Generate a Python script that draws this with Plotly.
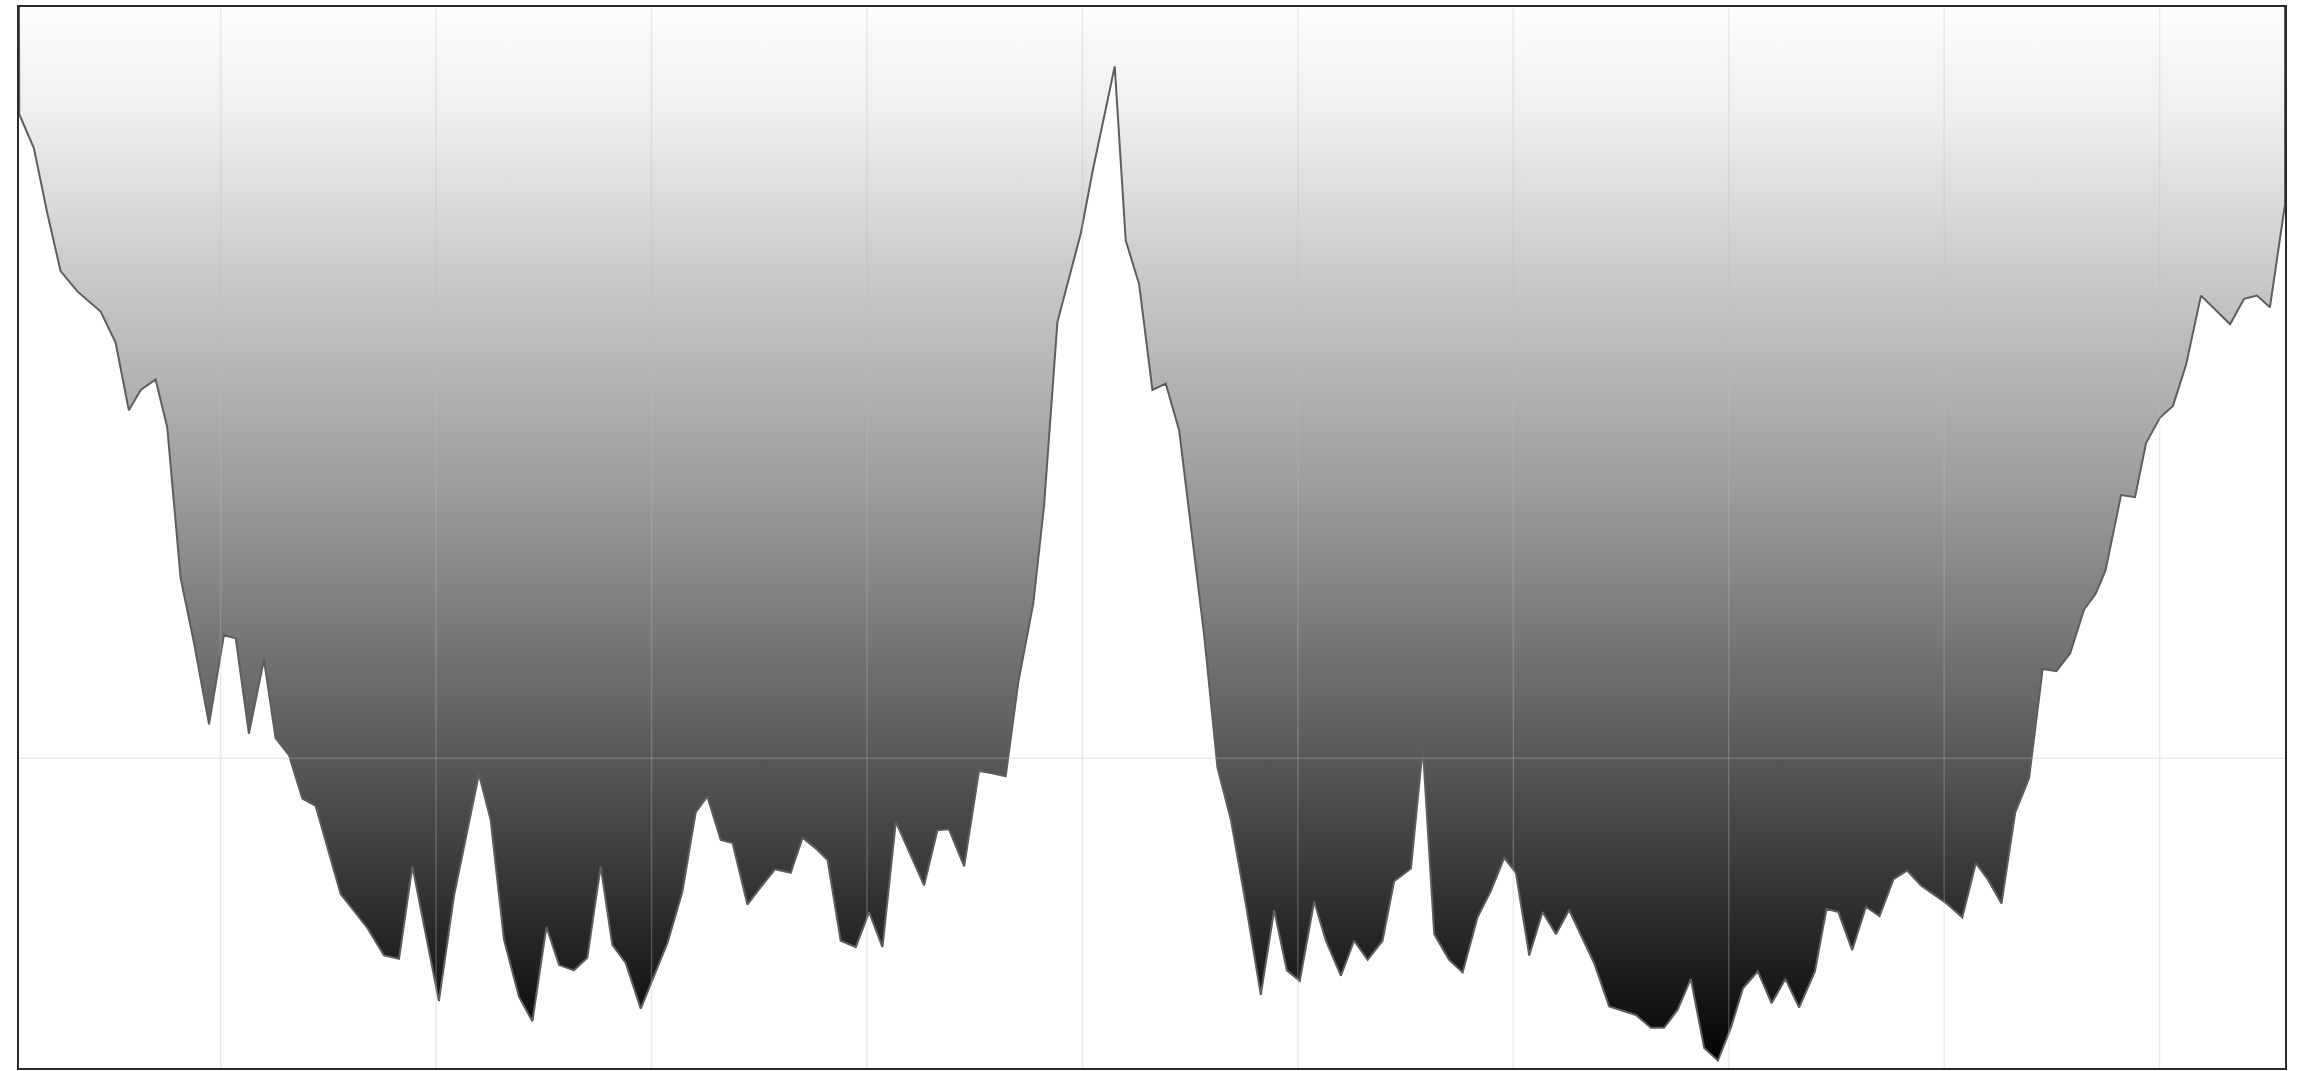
import plotly.graph_objects as go

# Distance along the section (arbitrary units) and depth below the surface (m)
DIST = [6.4, 6.5, 13.3, 19.5, 25.7, 33.5, 44.3, 51.2, 57.4, 62.9, 69.8, 75.2, 81.4, 87.6, 94.6,
        101.5, 107.0, 113.1, 120.1, 125.5, 131.7, 137.9, 144.1, 155.7, 168.1, 175.8, 182.8, 189.0,
        201.3, 208.3, 219.9, 225.3, 231.5, 238.5, 244.7, 251.2, 257.1, 264.0, 270.2, 276.4, 281.8,
        288.0, 295.0, 307.4, 314.3, 320.5, 325.9, 332.1, 337.6, 344.5, 350.7, 357.3, 364.6, 370.1,
        376.2, 381.7, 387.8, 394.8, 401.0, 407.2, 413.4, 426.5, 432.7, 438.1, 445.1, 452.0, 457.5,
        464.4, 470.2, 477.2, 482.2, 488.4, 499.3, 504.7, 515.0, 520.1, 526.3, 532.5, 538.7, 544.9,
        551.1, 556.5, 562.7, 568.9, 575.8, 582.8, 589.0, 594.9, 600.9, 607.6, 613.0, 620.0, 626.1,
        632.4, 639.3, 644.7, 652.5, 658.0, 663.3, 670.2, 676.5, 683.4, 689.6, 695.8, 701.2, 707.4,
        713.6, 719.8, 725.9, 737.5, 744.5, 756.9, 763.9, 770.0, 776.3, 782.4, 788.6, 795.0, 801.0,
        806.6, 813.5, 819.9, 826.3, 832.7, 840.0, 845.4, 850.9, 857.3, 863.7, 870.0, 876.5, 882.8,
        889.2, 901.1, 908.4, 914.7, 920.2, 926.6, 933.0, 939.4, 945.7, 952.1, 958.5, 964.9, 970.3,
        974.9, 982.1, 988.6, 993.7, 1000.2, 1006.2, 1012.3, 1019.2, 1026.2, 1032.7, 1039.2, 1045.2,
        1051.2, 1058.2, 1058.2]

DEPTH = [0, 713, 939, 1370, 1758, 1893, 2027, 2232, 2684, 2549, 2479, 2797, 3799, 4230, 4774,
         4181, 4202, 4837, 4343, 4866, 4979, 5268, 5318, 5904, 6130, 6313, 6335, 5720,
         6617, 5918, 5106, 5409, 6208, 6589, 6751, 6123, 6377, 6412, 6328, 5720, 6243,
         6363, 6667, 6229, 5890, 5360, 5254, 5544, 5565, 5974, 5858, 5740, 5763, 5530,
         5600, 5678, 6215, 6257, 6024, 6257, 5424, 5847, 5480, 5473, 5720, 5085, 5099,
         5120, 4499, 3969, 3319, 2097, 1504, 1095, 395, 1554, 1843, 2549, 2507, 2818,
         3545, 4181, 5063, 5409, 5967, 6575, 6010, 6412, 6483, 5953, 6215, 6448, 6215,
         6342, 6215, 5819, 5734, 4929, 6172, 6342, 6426, 6059, 5883, 5664, 5763, 6313,
         6024, 6172, 6010, 6363, 6652, 6709, 6794, 6794, 6674, 6469, 6928, 7013, 6794,
         6532, 6419, 6631, 6469, 6659, 6419, 6003, 6024, 6278, 5989, 6052, 5805, 5748,
         5847, 5967, 6059, 5699, 5805, 5967, 5360, 5134, 4407, 4421, 4301, 4011, 3905,
         3750, 3249, 3263, 2902, 2733, 2655, 2380, 1921, 2020, 2112, 1942, 1921,
         1999, 1314, 0]

assert len(DIST) == len(DEPTH), (len(DIST), len(DEPTH))

X_RANGE = [6.4, 1058.2]
Y_RANGE = [7062, 0]
X_GRID_STEP = 100
Y_GRID_STEP = 5000

fig = go.Figure()
fig.add_trace(go.Scatter(
    x=DIST, y=DEPTH, mode="lines", fill="tozeroy",
    line=dict(color="#5e5e5e", width=2),
    fillgradient=dict(
        type="vertical", start=0, stop=Y_RANGE[0],
        colorscale=[[0.0, "#fdfdfd"], [0.1, "#efefef"], [0.25, "#cacaca"],
                    [0.466, "#999999"], [0.705, "#595959"], [0.85, "#2e2e2e"],
                    [0.944, "#131313"], [1.0, "#000000"]],
    ),
    hoverinfo="skip", showlegend=False,
))

# grid lines drawn above the filled area (as in the reference)
shapes = []
gx = X_GRID_STEP
while gx < X_RANGE[1]:
    if gx > X_RANGE[0]:
        shapes.append(dict(type="line", xref="x", yref="paper", x0=gx, x1=gx, y0=0, y1=1,
                           layer="above", line=dict(color="rgba(190,190,190,0.3)", width=1.5)))
    gx += X_GRID_STEP
gy = Y_GRID_STEP
while gy < Y_RANGE[0]:
    shapes.append(dict(type="line", xref="paper", yref="y", x0=0, x1=1, y0=gy, y1=gy,
                       layer="above", line=dict(color="rgba(190,190,190,0.3)", width=1.5)))
    gy += Y_GRID_STEP

fig.update_layout(
    width=2314, height=1071,
    margin=dict(l=19, r=29, t=7, b=3),
    paper_bgcolor="white", plot_bgcolor="white",
    shapes=shapes,
    xaxis=dict(range=X_RANGE, showgrid=False, zeroline=False, showticklabels=False,
               ticks="", showline=True, mirror=True, linecolor="#2a2a2a", linewidth=2),
    yaxis=dict(range=Y_RANGE, showgrid=False, zeroline=False, showticklabels=False,
               ticks="", showline=True, mirror=True, linecolor="#2a2a2a", linewidth=2),
)

fig.write_html("out.html", config={"displayModeBar": False},
               post_script="document.body.style.margin='0';document.body.style.overflow='hidden';")
